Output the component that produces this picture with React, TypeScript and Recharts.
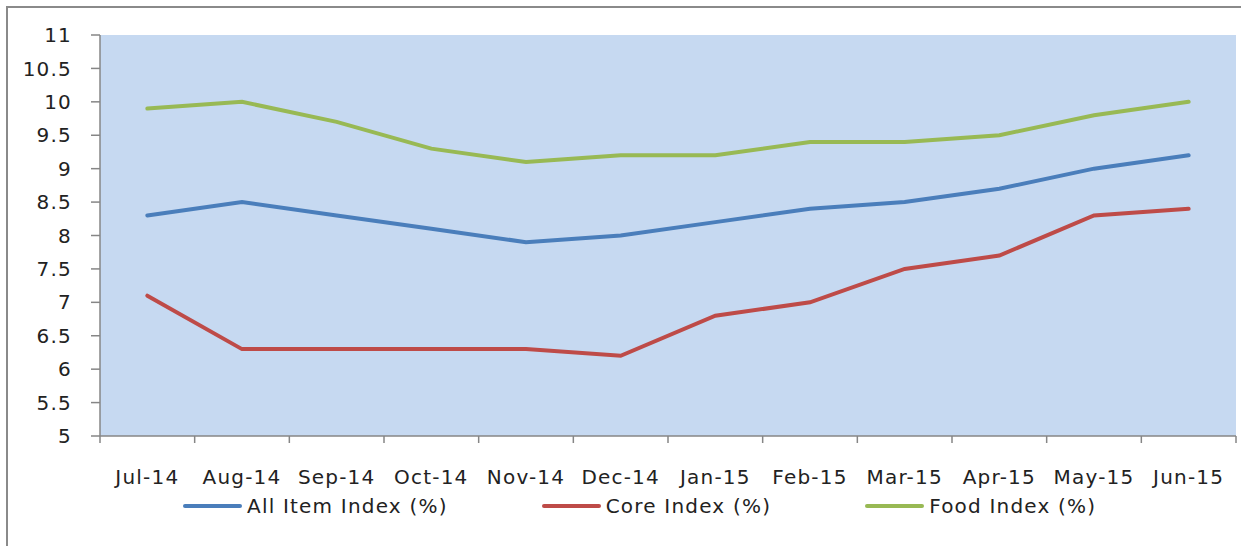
import React from 'react';
import { LineChart, Line, XAxis, YAxis, CartesianGrid, Legend } from 'recharts';

const months = ['Jul-14', 'Aug-14', 'Sep-14', 'Oct-14', 'Nov-14', 'Dec-14', 'Jan-15', 'Feb-15', 'Mar-15', 'Apr-15', 'May-15', 'Jun-15'];
const allItem = [8.3, 8.5, 8.3, 8.1, 7.9, 8.0, 8.2, 8.4, 8.5, 8.7, 9.0, 9.2];
const core = [7.1, 6.3, 6.3, 6.3, 6.3, 6.2, 6.8, 7.0, 7.5, 7.7, 8.3, 8.4];
const food = [9.9, 10.0, 9.7, 9.3, 9.1, 9.2, 9.2, 9.4, 9.4, 9.5, 9.8, 10.0];
const yTicks = [5, 5.5, 6, 6.5, 7, 7.5, 8, 8.5, 9, 9.5, 10, 10.5, 11];

const seriesNames = ['All Item Index (%)', 'Core Index (%)', 'Food Index (%)'];
const colors = ['#4A7EBB', '#BE4B48', '#98B954'];

const data = months.map((m, i) => ({ month: m, all: allItem[i], core: core[i], food: food[i] }));

const FONT = '"DejaVu Sans", sans-serif';
const AXIS = '#868686';

const XTick = (props: any) => {
  const { x, y, payload, index, width, visibleTicksCount } = props;
  const bw = width / visibleTicksCount;
  const left = x - bw / 2;
  const right = x + bw / 2;
  return (
    <g>
      <line x1={left} y1={y} x2={left} y2={y + 7} stroke={AXIS} strokeWidth={1.5} />
      {index === visibleTicksCount - 1 && (
        <line x1={right} y1={y} x2={right} y2={y + 7} stroke={AXIS} strokeWidth={1.5} />
      )}
      <text x={x} y={y + 48} textAnchor="middle" fill="#222" fontFamily={FONT} fontSize={20} letterSpacing={1.2}>
        {payload.value}
      </text>
    </g>
  );
};

const LegendContent = () => (
  <div style={{ height: 40, display: 'flex', alignItems: 'flex-start', paddingLeft: 183, fontFamily: FONT, fontSize: 20, letterSpacing: 1.2, color: '#222' }}>
    {seriesNames.map((n, i) => (
      <div key={n} style={{ display: 'flex', alignItems: 'center', height: 24, marginRight: 94 }}>
        <div style={{ width: 59, height: 4, background: colors[i], borderRadius: 2, marginRight: 5 }} />
        <span style={{ whiteSpace: 'nowrap' }}>{n}</span>
      </div>
    ))}
  </div>
);

export default function App() {
  return (
    <div style={{ position: 'absolute', left: 0, top: 0, width: 1241, height: 546, overflow: 'hidden', background: '#fff' }}>
      <div style={{ position: 'absolute', left: 6, top: 6, width: 1400, height: 800, borderLeft: '2px solid #8a8a8a', borderTop: '2px solid #8a8a8a' }} />
      <div style={{ position: 'absolute', left: 0, top: 0 }}>
        <LineChart width={1241} height={546} data={data} margin={{ top: 35, right: 5, left: 0, bottom: 0 }}>
          <CartesianGrid horizontal={false} vertical={false} fill="#C6D9F1" />
          <XAxis
            dataKey="month"
            scale="band"
            height={70}
            tickLine={false}
            tickSize={0}
            tickMargin={0}
            axisLine={{ stroke: AXIS, strokeWidth: 1.5 }}
            tick={<XTick />}
            interval={0}
          />
          <YAxis
            width={100}
            domain={[5, 11]}
            ticks={yTicks}
            interval={0}
            tickSize={9}
            tickMargin={19}
            axisLine={{ stroke: AXIS, strokeWidth: 1.5 }}
            tickLine={{ stroke: AXIS, strokeWidth: 1.5 }}
            tick={{ fill: '#222', fontFamily: FONT, fontSize: 20, letterSpacing: 1.2 }}
          />
          <Legend verticalAlign="bottom" content={<LegendContent />} wrapperStyle={{ bottom: 12, left: 0, width: 1241 }} />
          <Line dataKey="all" name={seriesNames[0]} stroke={colors[0]} strokeWidth={4} dot={false} isAnimationActive={false} strokeLinecap="round" />
          <Line dataKey="core" name={seriesNames[1]} stroke={colors[1]} strokeWidth={4} dot={false} isAnimationActive={false} strokeLinecap="round" />
          <Line dataKey="food" name={seriesNames[2]} stroke={colors[2]} strokeWidth={4} dot={false} isAnimationActive={false} strokeLinecap="round" />
        </LineChart>
      </div>
    </div>
  );
}
